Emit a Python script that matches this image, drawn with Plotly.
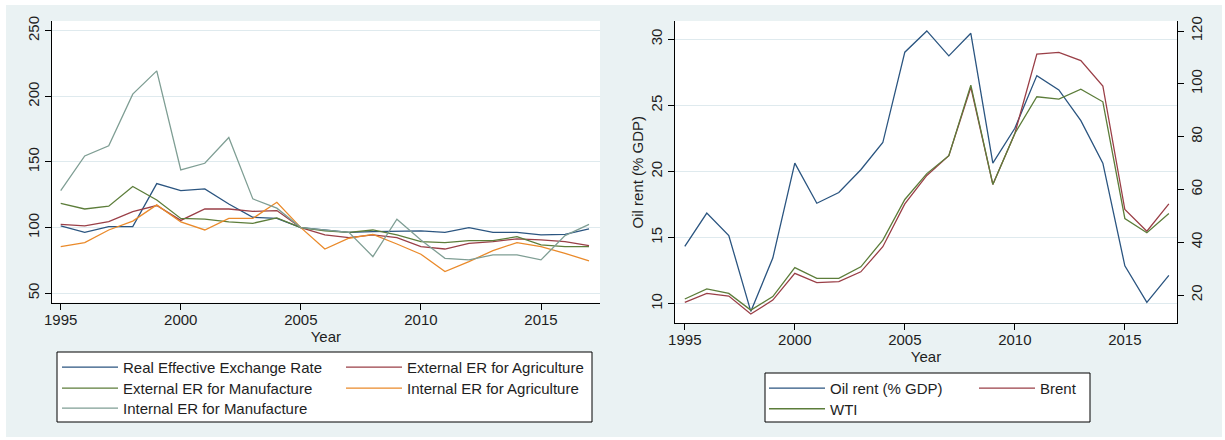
import plotly.graph_objects as go

W, H = 1225, 440

years = list(range(1995, 2018))

# Left panel: exchange-rate indices
reer = [101.3, 96.4, 100.8, 100.8, 133.5, 128.2, 129.5, 118.0, 107.9, 107.0, 100.0, 98.2,
        96.4, 97.0, 97.5, 97.5, 96.4, 100.0, 96.4, 96.4, 94.4, 94.9, 99.0]
ext_agri = [102.5, 101.3, 104.6, 112.2, 116.8, 105.5, 114.2, 114.2, 112.4, 113.0, 100.0, 94.4,
            92.4, 94.4, 92.4, 85.5, 83.7, 88.0, 89.3, 91.4, 90.6, 89.3, 86.3]
ext_manu = [118.5, 114.2, 116.3, 131.3, 121.0, 107.0, 106.4, 104.3, 103.3, 107.4, 100.0, 97.5,
            96.4, 98.2, 94.4, 89.3, 88.6, 90.1, 90.1, 93.1, 86.8, 85.5, 85.5]
int_agri = [85.5, 88.6, 98.2, 105.0, 117.3, 104.3, 98.2, 107.0, 107.0, 119.3, 100.0, 83.7,
            91.9, 94.9, 87.5, 79.7, 66.5, 74.1, 82.5, 88.6, 85.5, 80.4, 74.6]
int_manu = [128.2, 154.6, 162.3, 201.7, 219.4, 144.0, 149.0, 168.6, 121.9, 114.8, 100.0, 98.2,
            96.4, 77.9, 106.4, 90.6, 76.6, 75.4, 79.2, 79.2, 75.4, 93.9, 102.5]

# Right panel: oil rent and oil prices
oil_rent = [14.33, 16.85, 15.16, 9.42, 13.45, 20.63, 17.6, 18.41, 20.13, 22.19, 29.02, 30.63,
            28.74, 30.45, 20.63, 23.27, 27.25, 26.17, 23.85, 20.63, 12.87, 10.1, 12.14]
brent = [17.2, 20.6, 19.6, 12.8, 18.1, 28.2, 24.7, 25.1, 28.8, 38.3, 54.5, 65.3, 72.8, 98.7,
         61.9, 81.2, 111.3, 111.9, 108.8, 99.2, 52.4, 44.2, 54.5]
wti = [18.5, 22.3, 20.6, 14.3, 19.4, 30.4, 26.3, 26.3, 30.7, 40.8, 56.2, 66.0, 72.8, 99.5,
       61.9, 81.2, 95.1, 94.2, 98.0, 93.2, 49.0, 43.6, 50.9]

x_ticks = [1995, 2000, 2005, 2010, 2015]
left_y_ticks = [50, 100, 150, 200, 250]
right_y_ticks = [10, 15, 20, 25, 30]
price_ticks = [20, 40, 60, 80, 100, 120]

NAVY, MAROON, GREEN, ORANGE, TEAL = "#2b5580", "#9a3f47", "#5c7d3a", "#ea8a2a", "#7f9e94"
BG = "#eaf2f3"
GRID = "#dfeaee"
FONT = "Liberation Sans, Arial, sans-serif"
TXT = "#1e1e1e"


def fx(px):
    return px / W


def fy(py):
    return 1 - py / H


fig = go.Figure()

left_series = [
    ("Real Effective Exchange Rate", reer, NAVY, "legend"),
    ("External ER for Agriculture", ext_agri, MAROON, "legend2"),
    ("External ER for Manufacture", ext_manu, GREEN, "legend3"),
    ("Internal ER for Agriculture", int_agri, ORANGE, "legend4"),
    ("Internal ER for Manufacture", int_manu, TEAL, "legend5"),
]
for name, vals, col, lg in left_series:
    fig.add_trace(go.Scatter(x=years, y=vals, name=name, mode="lines",
                             line=dict(color=col, width=1.3), xaxis="x", yaxis="y",
                             legend=lg))

fig.add_trace(go.Scatter(x=years, y=oil_rent, name="Oil rent (% GDP)", mode="lines",
                         line=dict(color=NAVY, width=1.3), xaxis="x2", yaxis="y2",
                         legend="legend6"))
fig.add_trace(go.Scatter(x=years, y=brent, name="Brent", mode="lines",
                         line=dict(color=MAROON, width=1.3), xaxis="x2", yaxis="y3",
                         legend="legend7"))
fig.add_trace(go.Scatter(x=years, y=wti, name="WTI", mode="lines",
                         line=dict(color=GREEN, width=1.3), xaxis="x2", yaxis="y3",
                         legend="legend8"))

tickfont = dict(family=FONT, size=15, color=TXT)
common_x = dict(tickmode="array", tickvals=x_ticks, ticks="outside", ticklen=6,
                tickcolor="black", tickwidth=1, showline=True, linecolor="black",
                linewidth=1, showgrid=False, zeroline=False, tickfont=tickfont,
                automargin=False, ticklabelstandoff=-3,
                title=dict(text="Year", font=tickfont, standoff=0))
common_y = dict(tickmode="array", ticks="outside", ticklen=6, tickcolor="black",
                tickwidth=1, showline=True, linecolor="black", linewidth=1,
                zeroline=False, tickfont=tickfont, tickangle=-90, automargin=False)

fig.update_layout(
    width=W, height=H, autosize=False,
    margin=dict(l=0, r=0, t=0, b=0, pad=0, autoexpand=False),
    paper_bgcolor=BG, plot_bgcolor="white",
    font=dict(family=FONT, size=15, color=TXT),
    xaxis=dict(domain=[fx(51.7), fx(600)], anchor="y", range=[1994.625, 2017.457], **common_x),
    yaxis=dict(domain=[fy(302.7), fy(21)], anchor="x", range=[42.8, 257.4],
               tickvals=left_y_ticks, showgrid=True, gridcolor=GRID, gridwidth=1, **common_y),
    xaxis2=dict(domain=[fx(675), fx(1177)], anchor="y2", range=[1994.555, 2017.37], **common_x),
    yaxis2=dict(domain=[fy(323.3), fy(21)], anchor="x2", range=[8.52, 31.38],
                tickvals=right_y_ticks, showgrid=True, gridcolor=GRID, gridwidth=1,
                title=dict(text="Oil rent (% GDP)", font=tickfont, standoff=0), **common_y),
    yaxis3=dict(overlaying="y2", side="right", anchor="x2", range=[9.3, 123.8],
                tickvals=price_ticks, showgrid=False, **common_y),
    showlegend=True,
)

# one legend entry per slot, placed like the two-column boxed legends
legend_pos = {
    "legend": (57, 367.3), "legend2": (341, 367.3),
    "legend3": (57, 388.3), "legend4": (341, 388.3),
    "legend5": (57, 408.3),
    "legend6": (764, 388.3), "legend7": (974, 388.3),
    "legend8": (764, 409.0),
}
for key, (lx, ly) in legend_pos.items():
    fig.update_layout({key: dict(x=fx(lx), xanchor="left", y=fy(ly), yanchor="middle",
                                 orientation="v", itemwidth=56, bgcolor="rgba(0,0,0,0)",
                                 borderwidth=0, font=dict(family=FONT, size=15, color=TXT))})

shapes = []
# white outer border strips
for (x0, x1, y0, y1) in [(0, 6, 0, H), (1222, W, 0, H), (0, W, 0, 5), (0, W, 437, H)]:
    shapes.append(dict(type="rect", xref="paper", yref="paper", x0=fx(x0), x1=fx(x1),
                       y0=fy(y1), y1=fy(y0), line=dict(width=0), fillcolor="white",
                       layer="below"))
# legend frames
for (x0, y0, x1, y1) in [(57, 352, 592, 422), (765, 373, 1090, 422)]:
    shapes.append(dict(type="rect", xref="paper", yref="paper", x0=fx(x0), x1=fx(x1),
                       y0=fy(y1), y1=fy(y0), line=dict(color="black", width=1),
                       fillcolor="white", layer="below"))
fig.update_layout(shapes=shapes)

fig.write_html("out.html", config={"displayModeBar": False},
               post_script="document.body.style.margin='0';document.body.style.overflow='hidden';")
